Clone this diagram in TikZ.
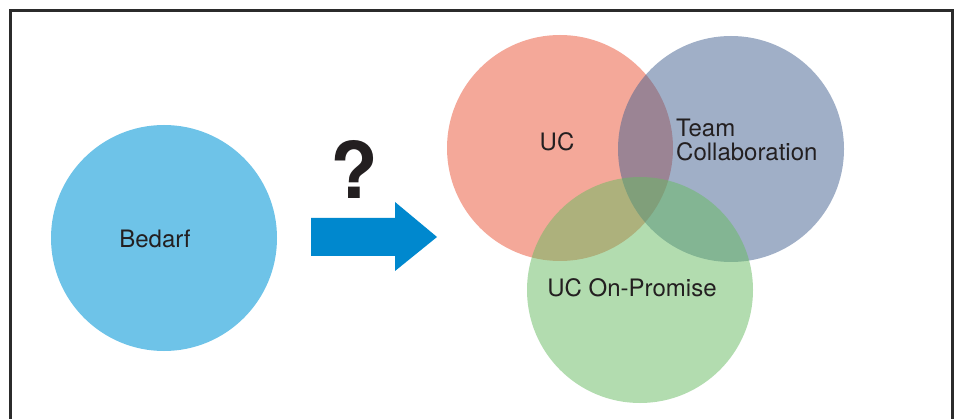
\documentclass[tikz,border=0pt]{standalone}
\usepackage{fontspec}
\setmainfont{TeX Gyre Heros}
\definecolor{framec}{HTML}{2B2B2B}
\definecolor{bedarfc}{HTML}{6EC3E8}
\definecolor{ucc}{RGB}{235,83,53}
\definecolor{teamc}{RGB}{67,97,145}
\definecolor{onpc}{RGB}{103,187,97}
\definecolor{arrowc}{HTML}{0088CE}
\definecolor{txtc}{HTML}{231F20}
\tikzset{
  bubble/.style={circle, minimum size=226pt, inner sep=0pt, draw=none},
  lbl/.style={text=txtc, font=\fontsize{24}{26}\selectfont, inner sep=0pt},
}
\begin{document}
\begin{tikzpicture}[x=1pt,y=-1pt]
\useasboundingbox (0,0) rectangle (960,419);
\fill[white] (0,0) rectangle (960,419);
\draw[framec, line width=3pt] (10.5,430) -- (10.5,10.5) -- (952.5,10.5) -- (952.5,430);
\node[bubble, fill=bedarfc] (bedarf) at (164,238) {};
\node[bubble, fill=ucc, fill opacity=0.5] (uc) at (560,148) {};
\node[bubble, fill=teamc, fill opacity=0.5] (team) at (731,149) {};
\node[bubble, fill=onpc, fill opacity=0.5] (onp) at (640,290) {};
\node[lbl] (tbedarf) at (155,239) {Bedarf};
\node[lbl] (tuc) at (557,142) {UC};
\node[lbl, anchor=west, align=left, font=\fontsize{24}{24}\selectfont] (tteam) at (676,140) {Team\\Collaboration};
\node[lbl] (tonp) at (632,288) {UC On-Promise};
\node[text=txtc, font=\fontsize{78}{80}\selectfont\bfseries, inner sep=0pt] (q) at (354,169) {?};
\fill[arrowc] (311,218) -- (395,218) -- (395,202) -- (437,237) -- (395,271) -- (395,256) -- (311,256) -- cycle;
\end{tikzpicture}
\end{document}
